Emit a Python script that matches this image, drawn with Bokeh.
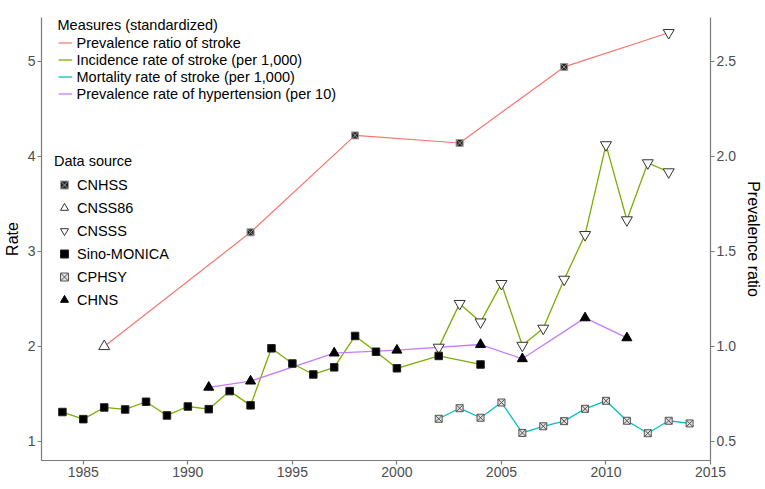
import math
from bokeh.plotting import figure
from bokeh.models import Range1d, LinearAxis, FixedTicker, Legend, LegendItem, PrintfTickFormatter
from bokeh.embed import file_html
from bokeh.resources import INLINE

FONT = "Liberation Sans"

# ---- data ----
# Prevalence ratio of stroke (right axis)
ratio_years = [1986, 1993, 1998, 2003, 2008, 2013]
ratio_values = [1.00, 1.60, 2.11, 2.07, 2.47, 2.65]
ratio_sources = ["CNSS86", "CNHSS", "CNHSS", "CNHSS", "CNHSS", "CNSSS"]

# Incidence rate of stroke (per 1,000) - Sino-MONICA
monica_years = [1984, 1985, 1986, 1987, 1988, 1989, 1990, 1991, 1992, 1993,
                1994, 1995, 1996, 1997, 1998, 1999, 2000, 2002, 2004]
monica_incidence = [1.31, 1.235, 1.358, 1.337, 1.418, 1.274, 1.368, 1.34, 1.53, 1.38,
                    1.98, 1.82, 1.705, 1.78, 2.11, 1.944, 1.77, 1.90, 1.81]

# Incidence rate of stroke (per 1,000) - CNSSS
cnsss_years = [2002, 2003, 2004, 2005, 2006, 2007, 2008, 2009, 2010, 2011, 2012, 2013]
cnsss_incidence = [1.99, 2.45, 2.256, 2.66, 2.01, 2.19, 2.705, 3.175, 4.12, 3.33, 3.93, 3.835]

# Mortality rate of stroke (per 1,000) - CPHSY
cphsy_years = [2002, 2003, 2004, 2005, 2006, 2007, 2008, 2009, 2010, 2011, 2012, 2013, 2014]
cphsy_mortality = [1.239, 1.35, 1.25, 1.41, 1.09, 1.16, 1.214, 1.344, 1.428, 1.218, 1.087, 1.218, 1.19]

# Prevalence rate of hypertension (per 10) - CHNS
chns_years = [1991, 1993, 1997, 2000, 2004, 2006, 2009, 2011]
chns_hypertension = [1.57, 1.635, 1.93, 1.96, 2.02, 1.87, 2.30, 2.09]

x_ticks = [1985, 1990, 1995, 2000, 2005, 2010, 2015]
rate_ticks = [1, 2, 3, 4, 5]
ratio_ticks = [0.5, 1.0, 1.5, 2.0, 2.5]

measure_labels = ["Prevalence ratio of stroke", "Incidence rate of stroke (per 1,000)",
                  "Mortality rate of stroke (per 1,000)", "Prevalence rate of hypertension (per 10)"]
source_labels = ["CNHSS", "CNSS86", "CNSSS", "Sino-MONICA", "CPHSY", "CHNS"]

RED, GREEN, CYAN, PURPLE = "#F8766D", "#7CAE00", "#00BFC4", "#C77CFF"

X0, X1 = 1983, 2015
Y0, Y1 = 0.8, 5.46
W, H = 765, 489
BL, BR, BT, BB = 41, 55, 17, 29

p = figure(width=W, height=H, output_backend="svg", toolbar_location=None,
           x_range=Range1d(X0, X1), y_range=Range1d(Y0, Y1),
           min_border_left=BL, min_border_right=BR, min_border_top=BT, min_border_bottom=BB)
p.extra_y_ranges = {"ratio": Range1d(Y0 / 2, Y1 / 2)}
p.outline_line_color = None
p.xgrid.visible = False
p.ygrid.visible = False
p.background_fill_color = "white"
p.border_fill_color = "white"

right_axis = LinearAxis(y_range_name="ratio", axis_label="Prevalence ratio")
p.add_layout(right_axis, "right")

for ax in [p.xaxis[0], p.yaxis[0], right_axis]:
    ax.axis_line_color = "#7a7a7a"
    ax.axis_line_width = 1.2
    ax.major_tick_line_color = "#7a7a7a"
    ax.major_tick_line_width = 1.2
    ax.major_tick_out = 4
    ax.major_tick_in = 0
    ax.minor_tick_line_color = None
    ax.major_label_text_font = FONT
    ax.major_label_text_font_size = "14px"
    ax.major_label_text_color = "#4d4d4d"
    ax.major_label_standoff = 2
    ax.axis_label_text_font = FONT
    ax.axis_label_text_font_size = "16px"
    ax.axis_label_text_font_style = "normal"
    ax.axis_label_text_color = "black"
    ax.axis_label_standoff = 4

p.xaxis[0].ticker = FixedTicker(ticks=x_ticks)
p.yaxis[0].ticker = FixedTicker(ticks=rate_ticks)
p.yaxis[0].axis_label = "Rate"
right_axis.ticker = FixedTicker(ticks=ratio_ticks)
right_axis.formatter = PrintfTickFormatter(format="%.1f")
right_axis.axis_label_standoff = 6

# ---- lines ----
r_ratio = p.line(ratio_years, ratio_values, y_range_name="ratio", line_color=RED, line_width=1.2)
r_inc = p.line(monica_years, monica_incidence, line_color=GREEN, line_width=1.3)
p.line(cnsss_years, cnsss_incidence, line_color=GREEN, line_width=1.3)
r_mort = p.line(cphsy_years, cphsy_mortality, line_color=CYAN, line_width=1.3)
r_hyp = p.line(chns_years, chns_hypertension, line_color=PURPLE, line_width=1.3)

# ---- markers ----
def pick(xs, ys, srcs, name):
    idx = [i for i, s in enumerate(srcs) if s == name]
    return [xs[i] for i in idx], [ys[i] for i in idx]

x, y = pick(ratio_years, ratio_values, ratio_sources, "CNHSS")
m_cnhss = p.scatter(x, y, y_range_name="ratio", marker="square_x", size=7,
                    fill_color="#262626", line_color="#9a9a9a", line_width=1)
x, y = pick(ratio_years, ratio_values, ratio_sources, "CNSS86")
m_cnss86 = p.scatter(x, y, y_range_name="ratio", marker="triangle", size=11,
                     fill_color="white", line_color="#333333", line_width=1)
x, y = pick(ratio_years, ratio_values, ratio_sources, "CNSSS")
p.scatter(x, y, y_range_name="ratio", marker="inverted_triangle", size=11,
          fill_color="white", line_color="#333333", line_width=1)
m_cnsss = p.scatter(cnsss_years, cnsss_incidence, marker="inverted_triangle", size=11,
                    fill_color="white", line_color="#333333", line_width=1)
m_monica = p.scatter(monica_years, monica_incidence, marker="square", size=7.5,
                     fill_color="black", line_color="#222222", line_width=1)
m_cphsy = p.scatter(cphsy_years, cphsy_mortality, marker="square_x", size=7,
                    fill_color="#e0e0e0", line_color="#555555", line_width=1)
m_chns = p.scatter(chns_years, chns_hypertension, marker="triangle", size=10,
                   fill_color="black", line_color="black", line_width=1)

# ---- legends ----
def style_legend(lg):
    lg.background_fill_alpha = 0
    lg.border_line_alpha = 0
    lg.padding = 0
    lg.margin = 0
    lg.spacing = 0
    lg.label_text_font = FONT
    lg.label_text_font_size = "14.5px"
    lg.label_text_color = "black"
    lg.title_text_font = FONT
    lg.title_text_font_size = "14.5px"
    lg.title_text_font_style = "normal"
    lg.title_text_color = "black"

leg1 = Legend(items=[LegendItem(label=measure_labels[0], renderers=[r_ratio]),
                     LegendItem(label=measure_labels[1], renderers=[r_inc]),
                     LegendItem(label=measure_labels[2], renderers=[r_mort]),
                     LegendItem(label=measure_labels[3], renderers=[r_hyp])],
              title="Measures (standardized)", location=(16.5, 358))
style_legend(leg1)
leg1.glyph_width = 14
leg1.glyph_height = 17
leg1.label_height = 17
leg1.label_standoff = 5
leg1.title_standoff = 1

leg2 = Legend(items=[LegendItem(label=source_labels[0], renderers=[m_cnhss]),
                     LegendItem(label=source_labels[1], renderers=[m_cnss86]),
                     LegendItem(label=source_labels[2], renderers=[m_cnsss]),
                     LegendItem(label=source_labels[3], renderers=[m_monica]),
                     LegendItem(label=source_labels[4], renderers=[m_cphsy]),
                     LegendItem(label=source_labels[5], renderers=[m_chns])],
              title="Data source", location=(13, 149))
style_legend(leg2)
leg2.glyph_width = 20
leg2.glyph_height = 23
leg2.label_height = 23
leg2.label_standoff = 3
leg2.title_standoff = 4

p.add_layout(leg1, "center")
p.add_layout(leg2, "center")

open("out.html", "w").write(file_html(p, INLINE))
